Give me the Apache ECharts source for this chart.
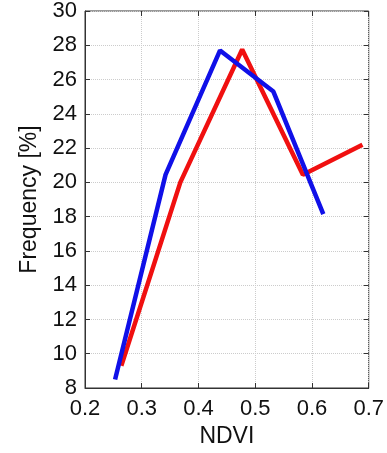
<!DOCTYPE html>
<html>
<head>
<meta charset="utf-8">
<script src="https://cdn.jsdelivr.net/npm/echarts@6/dist/echarts.min.js"></script>
<style>
  html, body { margin: 0; padding: 0; background: #fff; }
  #main { width: 387px; height: 453px; }
</style>
</head>
<body>
<div id="main"></div>
<script>
// NDVI / frequency points
var redX = [0.264, 0.368, 0.477, 0.584, 0.689];
var redY = [9.3, 20.0, 27.75, 20.45, 22.2];
var blueX = [0.253, 0.342, 0.438, 0.532, 0.620];
var blueY = [8.5, 20.45, 27.7, 25.3, 18.15];

function pairs(xs, ys) {
  return xs.map(function (x, i) { return [x, ys[i]]; });
}

var chart = echarts.init(document.getElementById('main'));
var font = 'Liberation Sans, Arial, sans-serif';

var option = {
  animation: false,
  backgroundColor: '#fff',
  grid: { left: 85, top: 11, right: 17, bottom: 63, show: true, borderColor: '#333', borderWidth: 1 },
  xAxis: [
    {
      type: 'value', min: 0.2, max: 0.7, interval: 0.1,
      name: 'NDVI', nameLocation: 'middle', nameGap: 37,
      nameTextStyle: { fontSize: 23, color: '#111', fontFamily: font },
      axisLine: { show: true, lineStyle: { color: '#333' } },
      axisTick: { show: true, inside: true, length: 5, lineStyle: { color: '#333' } },
      axisLabel: { fontSize: 22, color: '#111', fontFamily: font, margin: 10,
        formatter: function (v) { return v.toFixed(1); } },
      splitLine: { show: true, lineStyle: { color: '#ccc', type: 'dotted' } }
    },
    {
      type: 'value', min: 0.2, max: 0.7, interval: 0.1, position: 'top',
      axisLine: { show: false },
      axisTick: { show: true, inside: true, length: 5, lineStyle: { color: '#333' } },
      axisLabel: { show: false }, splitLine: { show: false }
    }
  ],
  yAxis: [
    {
      type: 'value', min: 8, max: 30, interval: 2,
      name: 'Frequency [%]', nameLocation: 'middle', nameGap: 42,
      nameTextStyle: { fontSize: 23, color: '#111', fontFamily: font },
      axisLine: { show: true, lineStyle: { color: '#333' } },
      axisTick: { show: true, inside: true, length: 5, lineStyle: { color: '#333' } },
      axisLabel: { fontSize: 22, color: '#111', fontFamily: font, margin: 8 },
      splitLine: { show: true, lineStyle: { color: '#ccc', type: 'dotted' } }
    },
    {
      type: 'value', min: 8, max: 30, interval: 2, position: 'right',
      axisLine: { show: false },
      axisTick: { show: true, inside: true, length: 5, lineStyle: { color: '#333' } },
      axisLabel: { show: false }, splitLine: { show: false }
    }
  ],
  series: [
    {
      type: 'line', data: pairs(redX, redY), symbol: 'none',
      lineStyle: { color: '#f01010', width: 4.5 }
    },
    {
      type: 'line', data: pairs(blueX, blueY), symbol: 'none',
      lineStyle: { color: '#1010e8', width: 4.5 }
    }
  ]
};

chart.setOption(option);
</script>
</body>
</html>
